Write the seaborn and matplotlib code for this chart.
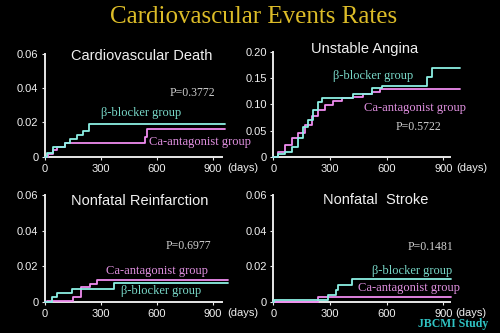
import matplotlib
matplotlib.use("Agg")
import matplotlib.pyplot as plt
import seaborn as sns
import pandas as pd

# ---------------- data ----------------
title_text = "Cardiovascular Events Rates"
panel_titles = ["Cardiovascular Death", "Unstable Angina", "Nonfatal Reinfarction", "Nonfatal  Stroke"]
p_values = ["P=0.3772", "P=0.5722", "P=0.6977", "P=0.1481"]
group_bb = "β-blocker group"
group_ca = "Ca-antagonist group"

x_ticks = [0, 300, 600, 900]
x_tick_labels = ["0", "300", "600", "900"]
y_ticks_small = [0, 0.02, 0.04, 0.06]
y_tick_labels_small = ["0", "0.02", "0.04", "0.06"]
y_ticks_ua = [0, 0.05, 0.10, 0.15, 0.20]
y_tick_labels_ua = ["0", "0.05", "0.10", "0.15", "0.20"]

# Cardiovascular death
cvd_bb_days = [0, 11, 46, 109, 136, 171, 207, 239, 965]
cvd_bb_rate = [0, 0.0023, 0.0055, 0.0078, 0.0101, 0.0127, 0.0152, 0.0192, 0.0192]
cvd_ca_days = [0, 19, 46, 64, 109, 537, 546, 965]
cvd_ca_rate = [0, 0.0018, 0.0039, 0.0057, 0.0078, 0.0117, 0.0160, 0.0160]

# Unstable angina
ua_bb_days = [0, 26, 62, 97, 132, 159, 185, 212, 238, 256, 423, 521, 573, 815, 841, 988]
ua_bb_rate = [0, 0.0046, 0.0096, 0.019, 0.035, 0.057, 0.070, 0.089, 0.105, 0.113,
              0.120, 0.131, 0.135, 0.153, 0.170, 0.170]
ua_ca_days = [0, 26, 62, 97, 132, 168, 203, 238, 274, 317, 362, 423, 476, 521, 565, 988]
ua_ca_rate = [0, 0.0096, 0.0224, 0.035, 0.045, 0.061, 0.077, 0.089, 0.099, 0.107,
              0.112, 0.115, 0.120, 0.1245, 0.129, 0.129]

# Nonfatal reinfarction
mi_bb_days = [0, 37, 64, 145, 371, 982]
mi_bb_rate = [0, 0.0025, 0.0047, 0.0071, 0.0105, 0.0105]
mi_ca_days = [0, 10, 153, 193, 243, 282, 982]
mi_ca_rate = [0, 0.0006, 0.0028, 0.0084, 0.0100, 0.0122, 0.0122]

# Nonfatal stroke
st_bb_days = [0, 5, 291, 333, 344, 415, 940]
st_bb_rate = [0, 0.0012, 0.0036, 0.0066, 0.0096, 0.0125, 0.0125]
st_ca_days = [0, 238, 940]
st_ca_rate = [0, 0.0025, 0.0025]

# ---------------- style ----------------
sns.set_theme(style="dark")
plt.rcParams["font.family"] = ["Liberation Sans", "DejaVu Sans"]
plt.rcParams["figure.facecolor"] = "black"
plt.rcParams["axes.facecolor"] = "black"

CYAN = "#8cf0e4"
PINK = "#f08cf0"
CYAN_T = "#78d8c8"
PINK_T = "#e090e0"
WHITE = "#f0f0f0"
GRAY = "#d0d0d0"
SERIF = ["Liberation Serif", "DejaVu Serif"]

W, H = 500, 333
fig = plt.figure(figsize=(5, 3.33), dpi=100)


def fx(px):
    return px / W


def fy(py):
    return 1 - py / H


def make_axes(x0, y0, px_per_day, xmax, y_top_px, ymax):
    left = fx(x0)
    width = xmax * px_per_day / W
    bottom = fy(y0)
    height = (y0 - y_top_px) / H
    ax = fig.add_axes([left, bottom, width, height])
    ax.set_xlim(0, xmax)
    ax.set_ylim(0, ymax)
    return ax


panels = [
    dict(pos=(44.7, 156.7, 0.1867, 950, 54.0, 0.06), bb=(cvd_bb_days, cvd_bb_rate), ca=(cvd_ca_days, cvd_ca_rate),
         yt=(y_ticks_small, y_tick_labels_small)),
    dict(pos=(273.3, 156.7, 0.189, 937, 52.2, 0.20), bb=(ua_bb_days, ua_bb_rate), ca=(ua_ca_days, ua_ca_rate),
         yt=(y_ticks_ua, y_tick_labels_ua)),
    dict(pos=(44.7, 301.7, 0.1867, 950, 195.0, 0.06), bb=(mi_bb_days, mi_bb_rate), ca=(mi_ca_days, mi_ca_rate),
         yt=(y_ticks_small, y_tick_labels_small)),
    dict(pos=(273.3, 301.7, 0.189, 937, 195.0, 0.06), bb=(st_bb_days, st_bb_rate), ca=(st_ca_days, st_ca_rate),
         yt=(y_ticks_small, y_tick_labels_small)),
]

for p in panels:
    ax = make_axes(*p["pos"])
    ax.grid(False)
    for (d, r), col in ((p["ca"], PINK), (p["bb"], CYAN)):
        df = pd.DataFrame({"day": d, "rate": r})
        sns.lineplot(data=df, x="day", y="rate", ax=ax, color=col, lw=1.3,
                     drawstyle="steps-post", estimator=None, clip_on=False, zorder=3)
    ax.set_xlabel("")
    ax.set_ylabel("")
    for s in ("top", "right"):
        ax.spines[s].set_visible(False)
    for s in ("left", "bottom"):
        ax.spines[s].set_visible(True)
        ax.spines[s].set_color("#e8e8e8")
        ax.spines[s].set_linewidth(1.4)
    ax.set_xticks(x_ticks)
    ax.set_xticklabels(x_tick_labels)
    ax.set_yticks(p["yt"][0])
    ax.set_yticklabels(p["yt"][1])
    ax.tick_params(axis="both", which="both", direction="out", length=2.5, width=0.8,
                   color="#e8e8e8", labelcolor=WHITE, labelsize=8, bottom=True, left=True)
    ax.tick_params(axis="x", pad=2.5)
    ax.tick_params(axis="y", pad=2.0)

# title
fig.text(fx(254), fy(17), title_text, color="#dcbc28", fontsize=18, family=SERIF,
         ha="center", va="center")

# panel titles
for (cx, cy), t in zip([(142, 56), (365, 49), (140, 201), (376, 200)], panel_titles):
    fig.text(fx(cx), fy(cy), t, color=WHITE, fontsize=10.5, ha="center", va="center")

# p-values
for (cx, cy), t in zip([(192, 93), (418, 127), (188, 246), (430, 247)], p_values):
    fig.text(fx(cx), fy(cy), t, color=GRAY, fontsize=8.5, family=SERIF, ha="center", va="center")

# group labels
for (cx, cy) in [(141, 113), (373, 76), (161, 291), (412, 271)]:
    fig.text(fx(cx), fy(cy), group_bb, color=CYAN_T, fontsize=9, family=SERIF, ha="center", va="center")
for (cx, cy) in [(200, 142), (415, 108), (157, 271), (409, 288)]:
    fig.text(fx(cx), fy(cy), group_ca, color=PINK_T, fontsize=9, family=SERIF, ha="center", va="center")

# (days) labels
for (cx, cy) in [(243, 168), (472, 168), (243, 313), (471, 313)]:
    fig.text(fx(cx), fy(cy), "(days)", color=WHITE, fontsize=8, ha="center", va="center")

fig.text(fx(453), fy(324), "JBCMI Study", color="#30c4c4", fontsize=8.5, family=SERIF,
         weight="bold", ha="center", va="center")

fig.savefig("out.png", dpi=100, facecolor="black")
